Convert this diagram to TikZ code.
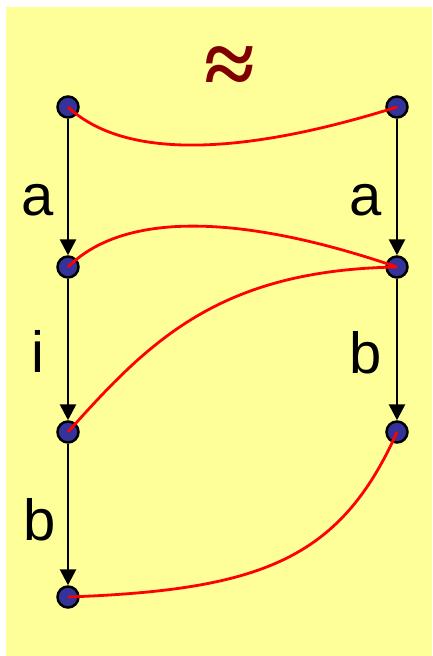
\documentclass[tikz,border=0pt]{standalone}
\usepackage{fontspec}
\setmainfont{Liberation Sans}
\newfontfamily\approxfont{Liberation Serif}
\usetikzlibrary{arrows.meta}
\definecolor{bgyellow}{HTML}{FFFF99}
\definecolor{statefill}{HTML}{333399}
\definecolor{relred}{HTML}{FF0000}
\definecolor{symred}{HTML}{800000}
\tikzset{
  state/.style={circle, draw=black, fill=statefill, line width=2.5pt, minimum size=21pt, inner sep=0pt},
  trans/.style={draw=black, line width=2.8pt, -{Triangle[width=16pt,length=16pt]}},
  rel/.style={draw=relred, line width=2.8pt},
  lbl/.style={font=\fontsize{58}{60}\selectfont, anchor=base west, inner sep=0pt},
}
\begin{document}
\begin{tikzpicture}[x=1pt,y=-1pt]
\useasboundingbox (0,0) rectangle (432,656);
\fill[bgyellow] (6,7) rectangle (432,656);
\node[inner sep=0pt, text=symred, font=\approxfont\bfseries\fontsize{92}{92}\selectfont] (sym) at (230,71) {≈};
\node[state] (l1) at (68,107) {};
\node[state] (l2) at (68,267) {};
\node[state] (l3) at (68,432) {};
\node[state] (l4) at (68,597) {};
\node[state] (r1) at (397,107) {};
\node[state] (r2) at (397,267) {};
\node[state] (r3) at (397,432) {};
\draw[trans] (l1) -- (l2);
\draw[trans] (l2) -- (l3);
\draw[trans] (l3) -- (l4);
\draw[trans] (r1) -- (r2);
\draw[trans] (r2) -- (r3);
\node[lbl] (la1) at (21.5,215) {a};
\node[lbl] (li) at (31,372) {i};
\node[lbl] (lb) at (23,540) {b};
\node[lbl] (ra1) at (349.5,215) {a};
\node[lbl] (rb) at (349,373) {b};
\draw[rel] (l1.center) .. controls (130,165) and (260,150) .. (r1.center);
\draw[rel] (l2.center) .. controls (120,215) and (230,210) .. (r2.center);
\draw[rel] (l3.center) .. controls (150,340) and (220,270) .. (r2.center);
\draw[rel] (l4.center) .. controls (260,590) and (340,560) .. (r3.center);
\end{tikzpicture}
\end{document}
